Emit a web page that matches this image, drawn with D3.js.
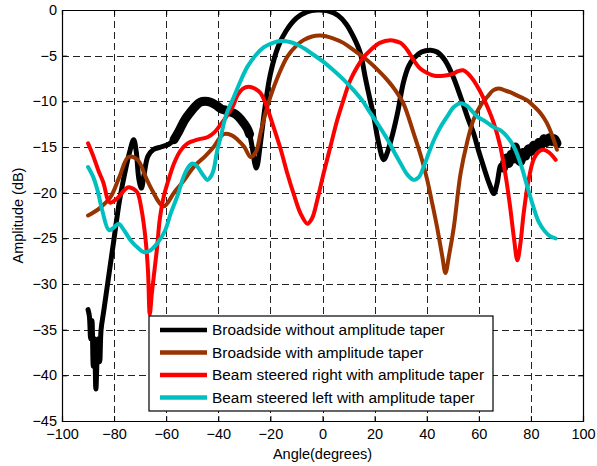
<!DOCTYPE html>
<html lang="en">
<head>
<meta charset="utf-8">
<title>Amplitude vs angle</title>
<script src="https://d3js.org/d3.v7.min.js"></script>
<style>
  * { margin:0; padding:0; box-sizing:border-box; }
  body { background:#fff; font-family:'Liberation Sans', Arial, sans-serif; }
  svg text { font-family:'Liberation Sans', Arial, sans-serif; fill:#000; }
  .grid line { stroke:#222; stroke-width:1; stroke-dasharray:7,4; shape-rendering:crispEdges; }
  .curve { fill:none; stroke-linejoin:round; stroke-linecap:round; }
</style>
</head>
<body>
<svg id="chart" width="597" height="466"></svg>
<script>
// ─── Data ───
const xTicks = [-100, -80, -60, -40, -20, 0, 20, 40, 60, 80, 100];
const yTicks = [0, -5, -10, -15, -20, -25, -30, -35, -40, -45];

const broadsideNoTaper = [
  [-90,-32.8],[-89.5,-33.5],[-89,-36],[-88.5,-34],[-88,-39],[-87.5,-36],[-87,-41.5],[-86.5,-38],
  [-86,-36],[-85.5,-38.5],[-85,-35],[-84,-33],[-82,-29],[-80,-25],[-78,-21],[-76,-18],[-74,-15.5],
  [-72.5,-14.2],[-71.5,-15.5],[-70.5,-18.5],[-69.5,-19.5],[-68.5,-18],[-67,-16],[-65,-15.3],
  [-62,-15],[-59,-14.7],[-57,-14.2],[-55,-13.2],[-53,-12.1],[-51,-11.3],[-49,-10.6],[-47,-10.1],
  [-45,-10],[-43,-10.1],[-41,-10.4],[-39,-10.8],[-37,-11],[-35,-11.2],[-33,-11.5],[-31,-12.1],
  [-29,-12.9],[-28,-13.6],[-27,-15],[-26,-16.8],[-25.5,-17.3],[-25,-17],[-24,-15],[-22,-10.5],
  [-20,-7],[-17,-4],[-14,-2.3],[-10,-0.9],[-6,-0.2],[-2,0],[2,-0.1],[6,-0.6],[9,-1.5],[12,-3],
  [14.5,-4.7],[16.5,-7.5],[18,-9.5],[19.7,-11.7],[21.5,-14.5],[23.5,-16.4],[25,-15.5],[27,-13.5],
  [29,-11],[31,-8],[33,-6.2],[35,-5.3],[38,-4.6],[41.5,-4.4],[44,-4.6],[47,-5.5],[50,-7.2],
  [53,-9.5],[56,-12],[58,-13.5],[60,-15.5],[62,-17.3],[64,-19],[65.8,-20.1],[67,-19],[68.5,-17],
  [69.5,-17.3],[70.5,-16.2],[71.5,-16.8],[72.5,-15.8],[73.5,-16.3],[74,-15],[75,-16.3],[76,-16.6],
  [77,-15.6],[78,-16],[79,-15.2],[80,-15.5],[81,-14.8],[82,-15.1],[83,-14.5],[84,-14.8],
  [85,-14.1],[86,-14.5],[87,-14],[88,-14.4],[89,-14.1],[90,-14.6]
];
// angle ranges where the black trace is a noisy band
const noisyRanges = [[-57, -28], [69, 90]];

const broadsideTaper = [
  [-90,-22.5],[-86,-21.8],[-81.4,-20.5],[-78,-18.3],[-74.5,-16.1],[-71,-16.4],[-68,-18.2],
  [-66,-19.4],[-61,-21.5],[-57,-20],[-53,-18.6],[-49.5,-17.2],[-45,-16],[-41.8,-15],[-38,-13.6],
  [-35,-13.7],[-32.6,-14.2],[-30,-15],[-27.6,-16.1],[-25.5,-15.5],[-23.8,-13.5],[-22,-11.4],
  [-20,-9.5],[-17,-7.2],[-13.5,-5.1],[-10,-3.9],[-7.3,-3.3],[-4,-2.9],[-0.8,-2.8],[4,-3.1],
  [8,-3.6],[12,-4.4],[17.2,-5.5],[21,-6.5],[25,-7.7],[28,-8.8],[31,-10.2],[35,-13.5],
  [38,-16.2],[40.2,-18.6],[42,-21],[44,-23.8],[46,-27],[47.2,-28.8],[48.5,-27],[50.4,-23.8],
  [53,-17.9],[55.5,-14.5],[58,-12],[61,-10.3],[63.3,-9.5],[65.5,-8.8],[67.6,-8.6],[70,-8.8],
  [72,-9],[75,-9.4],[78.6,-9.9],[81,-10.5],[83.7,-11.3],[86,-12.3],[88,-13.6],[90,-15.3]
];

const steeredRight = [
  [-90,-14.6],[-88,-16],[-86,-17.6],[-84,-19],[-82.5,-20.7],[-81.4,-21.1],[-79.5,-20.8],
  [-78.3,-20.5],[-76,-19.7],[-74.5,-19.4],[-72.5,-19.6],[-71,-20],[-69.5,-21.8],[-68,-24.9],
  [-67,-28.5],[-66.3,-33.3],[-65.5,-31],[-64.5,-28.5],[-63.5,-26],[-62.5,-23],[-61,-20.5],
  [-59,-18.5],[-57,-16.8],[-54.5,-15.4],[-51.8,-14.6],[-48,-14.2],[-44,-13.9],[-41.5,-13.4],
  [-39,-12.5],[-36.5,-11.5],[-34.2,-10.4],[-32.6,-9.3],[-30.5,-8.6],[-28.4,-8.4],[-26,-8.6],
  [-23.8,-9.1],[-21.5,-10.5],[-18.8,-12.8],[-16,-15.3],[-13.5,-17.9],[-11,-20.2],[-8.4,-22.3],
  [-5.8,-23.4],[-4,-22.8],[-2,-20.8],[0.5,-17.8],[3,-15],[5.5,-12.2],[8,-9.9],[10.5,-7.8],
  [13.4,-6.2],[16,-5.1],[18.4,-4.4],[22,-3.6],[26,-3.3],[29,-3.5],[30,-3.6],[32.6,-4.4],
  [35,-5.5],[37.5,-6.4],[40.2,-6.9],[43,-7.2],[46.5,-7.2],[50,-7],[52,-6.7],[54,-6.6],
  [56,-7],[58,-7.7],[60.5,-8.9],[63.3,-10.6],[66,-12.6],[68.3,-15],[70.5,-18.5],[72,-21.5],
  [73.5,-25],[74.8,-27.4],[76,-25.5],[77.2,-22.3],[79,-18.8],[81,-16.4],[83,-15.5],
  [85,-15.3],[87,-15.6],[89.5,-16.4]
];

const steeredLeft = [
  [-90,-17.2],[-88,-18.3],[-86.4,-19.7],[-84.5,-22],[-82,-24.1],[-80,-23.8],[-78.3,-23.4],
  [-76,-24.2],[-73.7,-25.2],[-71,-26],[-68.7,-26.5],[-66,-26.3],[-63.3,-25.5],[-60.5,-24.2],
  [-58.3,-22.3],[-55.5,-20.2],[-53.4,-18.3],[-51.5,-17.2],[-50,-16.8],[-48.5,-17],[-46,-18],
  [-44.2,-18.6],[-42.8,-18.2],[-41.8,-17.5],[-40.5,-15.5],[-39,-13.8],[-37,-11.5],[-34,-9.5],
  [-31.5,-7.8],[-28.8,-6.2],[-25.5,-4.9],[-22.6,-4.1],[-19,-3.6],[-16,-3.4],[-12.5,-3.5],
  [-9.6,-3.8],[-6.5,-4.3],[-3.5,-4.9],[0,-5.6],[4.2,-6.6],[8,-7.6],[12,-8.8],[15.5,-10],
  [18.4,-11.3],[21.5,-12.6],[25,-14.2],[28,-15.8],[30,-16.8],[32.5,-18],[35,-18.6],[37,-18.3],
  [38.8,-17.2],[41,-15.5],[43,-14.1],[45.3,-12.8],[48,-11.6],[50.5,-10.6],[53,-10.2],
  [55.5,-10.5],[57.5,-11.1],[59.5,-11.7],[62.5,-12.2],[65.6,-12.8],[68.5,-13.2],[71,-13.9],
  [73.5,-15],[76,-16.8],[78.5,-19.2],[81,-21.6],[83,-23.2],[85,-24.1],[87,-24.7],[89.5,-25]
];

const seriesNames = [
  'Broadside without amplitude taper',
  'Broadside with amplitude taper',
  'Beam steered right with amplitude taper',
  'Beam steered left with amplitude taper'
];
const seriesColors = ['#000000', '#993300', '#ff0000', '#00bfbf'];
const seriesWidths = [5, 4, 4, 4];
const seriesData = [broadsideNoTaper, broadsideTaper, steeredRight, steeredLeft];

// ─── Layout ───
const margin = { left: 62, top: 10, right: 14, bottom: 45 };
const W = 597, H = 466;
const svg = d3.select('#chart');

const x = d3.scaleLinear().domain([-100, 100]).range([margin.left, W - margin.right]);
const y = d3.scaleLinear().domain([-45, 0]).range([H - margin.bottom, margin.top]);

// grid
const grid = svg.append('g').attr('class', 'grid');
grid.selectAll('.gx').data(xTicks.slice(1, -1)).join('line')
  .attr('x1', d => Math.round(x(d)) + 0.5).attr('x2', d => Math.round(x(d)) + 0.5)
  .attr('y1', y(0)).attr('y2', y(-45));
grid.selectAll('.gy').data(yTicks.slice(1, -1)).join('line')
  .attr('y1', d => Math.round(y(d)) + 0.5).attr('y2', d => Math.round(y(d)) + 0.5)
  .attr('x1', x(-100)).attr('x2', x(100));

// axes (ticks inward on all sides)
const tickLen = 5;
const xAxisB = svg.append('g').attr('transform', `translate(0,${y(-45)})`)
  .call(d3.axisBottom(x).tickValues(xTicks).tickSize(-tickLen).tickPadding(8));
const xAxisT = svg.append('g').attr('transform', `translate(0,${y(0)})`)
  .call(d3.axisTop(x).tickValues(xTicks).tickSize(-tickLen).tickFormat(''));
const yAxisL = svg.append('g').attr('transform', `translate(${x(-100)},0)`)
  .call(d3.axisLeft(y).tickValues(yTicks).tickSize(-tickLen).tickPadding(5));
const yAxisR = svg.append('g').attr('transform', `translate(${x(100)},0)`)
  .call(d3.axisRight(y).tickValues(yTicks).tickSize(-tickLen).tickFormat(''));

[xAxisB, xAxisT, yAxisL, yAxisR].forEach(a => {
  a.selectAll('path').attr('stroke', '#000').attr('stroke-width', 1.2);
  a.selectAll('line').attr('stroke', '#000');
  a.selectAll('text').attr('font-size', 14.5).attr('fill', '#000');
});

// curves
svg.append('clipPath').attr('id', 'plotclip').append('rect')
  .attr('x', x(-100)).attr('y', y(0)).attr('width', x(100) - x(-100)).attr('height', y(-45) - y(0));

const line = d3.line().x(d => x(d[0])).y(d => y(d[1])).curve(d3.curveCatmullRom.alpha(0.5));
const curves = svg.append('g').attr('clip-path', 'url(#plotclip)');
seriesData.forEach((data, i) => {
  if (i === 0) {
    // noisy band parts of the black trace drawn fatter
    noisyRanges.forEach(([a, b]) => {
      curves.append('path').datum(data.filter(d => d[0] >= a && d[0] <= b)).attr('class', 'curve')
        .attr('stroke', seriesColors[0]).attr('stroke-width', 9).attr('d', line);
    });
  }
  curves.append('path').datum(data).attr('class', 'curve')
    .attr('stroke', seriesColors[i]).attr('stroke-width', seriesWidths[i])
    .attr('d', line);
});

// axis labels
svg.append('text').attr('x', (x(-100) + x(100)) / 2).attr('y', 459)
  .attr('text-anchor', 'middle').attr('font-size', 14.5).text('Angle(degrees)');
svg.append('text').attr('transform', `translate(23,${(y(0) + y(-45)) / 2}) rotate(-90)`)
  .attr('text-anchor', 'middle').attr('font-size', 14.5).text('Amplitude (dB)');

// legend
const lg = svg.append('g').attr('transform', 'translate(149,316)');
lg.append('rect').attr('width', 344).attr('height', 95).attr('fill', '#fff')
  .attr('stroke', '#000').attr('stroke-width', 1.2);
seriesNames.forEach((name, i) => {
  const ry = 14 + i * 22.5;
  lg.append('line').attr('x1', 11).attr('x2', 58).attr('y1', ry).attr('y2', ry)
    .attr('stroke', seriesColors[i]).attr('stroke-width', 4.5);
  lg.append('text').attr('x', 63).attr('y', ry).attr('dy', '0.35em')
    .attr('font-size', 15.4).text(name);
});
</script>
</body>
</html>
